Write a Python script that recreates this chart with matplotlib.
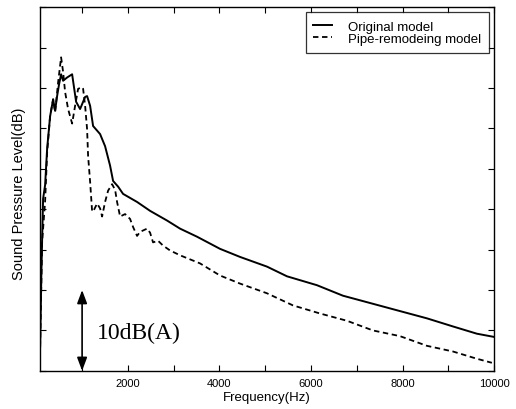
import matplotlib
matplotlib.use("Agg")
import matplotlib.pyplot as plt
from matplotlib.ticker import MultipleLocator, NullFormatter

plt.rcParams['font.family'] = ['Liberation Sans', 'DejaVu Sans']

# Original model (solid)
orig_freq = [83, 110, 127, 148, 192, 236, 301, 367, 410, 454, 498, 541, 585, 672, 782,
             869, 956, 1066, 1109, 1175, 1240, 1393, 1502, 1611, 1677, 1786, 1895, 2201,
             2485, 2856, 3140, 3511, 4013, 4450, 5039, 5476, 6131, 6699, 7354, 7943,
             8533, 9100, 9624, 10000]
orig_spl = [3.0, 12.0, 16.4, 21.3, 23.0, 27.5, 31.5, 33.6, 32.2, 34.0, 35.5, 36.7, 35.9,
            36.3, 36.7, 33.3, 32.4, 33.9, 34.0, 32.8, 30.3, 29.3, 27.8, 25.4, 23.5, 22.8,
            21.9, 20.9, 19.8, 18.6, 17.6, 16.6, 15.1, 14.1, 12.9, 11.7, 10.6, 9.3, 8.3,
            7.4, 6.5, 5.5, 4.6, 4.2]

# Pipe-remodeing model (dashed)
pipe_freq = [83, 127, 192, 236, 301, 367, 410, 476, 541, 585, 629, 694, 782, 847, 913,
             1000, 1022, 1066, 1109, 1131, 1175, 1218, 1240, 1328, 1393, 1437, 1502, 1568,
             1655, 1721, 1764, 1830, 1939, 2048, 2114, 2201, 2266, 2419, 2485, 2550, 2659,
             2769, 2921, 3140, 3576, 4013, 4450, 5039, 5607, 6197, 6786, 7354, 7943, 8533,
             9100, 9624, 9952]
pipe_spl = [3.0, 16.0, 21.0, 27.0, 31.5, 33.6, 32.0, 35.7, 38.8, 37.0, 34.5, 32.4, 30.6,
            32.8, 34.9, 35.1, 34.9, 32.8, 29.9, 26.6, 23.4, 19.8, 19.7, 20.7, 20.1, 19.1,
            20.9, 22.3, 23.1, 22.4, 20.9, 19.1, 19.4, 18.8, 17.8, 16.7, 17.2, 17.6, 17.1,
            15.9, 16.1, 15.5, 14.9, 14.3, 13.3, 11.8, 10.8, 9.6, 8.1, 7.1, 6.2, 5.0, 4.3,
            3.1, 2.4, 1.5, 1.0]

xtick_vals = [2000, 4000, 6000, 8000, 10000]
series_labels = ["Original model", "Pipe-remodeing model"]

fig = plt.figure(figsize=(5.16, 4.10), dpi=100)
ax = fig.add_axes([0.0775, 0.093, 0.880, 0.887])

ax.plot(orig_freq, orig_spl, color='black', lw=1.4, linestyle='-', label=series_labels[0])
ax.plot(pipe_freq, pipe_spl, color='black', lw=1.3, linestyle=(0, (3, 2)), label=series_labels[1])

ax.set_xlim(80, 10000)
ax.set_ylim(0, 45)
ax.set_xticks(xtick_vals)
ax.set_xticklabels([str(v) for v in xtick_vals], fontsize=8)
ax.xaxis.set_minor_locator(MultipleLocator(1000))
ax.yaxis.set_major_locator(MultipleLocator(5))
ax.yaxis.set_major_formatter(NullFormatter())
ax.tick_params(which='both', direction='in', top=True, right=True, length=4, width=0.8)
ax.tick_params(axis='x', pad=5)
for s in ax.spines.values():
    s.set_linewidth(1.0)

ax.set_xlabel("Frequency(Hz)", fontsize=9.5, labelpad=2)
ax.set_ylabel("Sound Pressure Level(dB)", fontsize=10.5)
ax.yaxis.set_label_coords(-0.03, 0.49)

# 10 dB scale arrow
ax.annotate("", xy=(1000, 10), xytext=(1000, 0),
            arrowprops=dict(arrowstyle='<|-|>,head_length=0.8,head_width=0.3',
                            color='black', lw=1.2, shrinkA=0, shrinkB=0))
ax.text(1330, 4.8, "10dB(A)", fontsize=17, family=['Liberation Serif', 'DejaVu Serif'],
        va='center', ha='left')

leg = ax.legend(loc='upper right', fontsize=9.5, frameon=True, fancybox=False,
                edgecolor='black', handlelength=1.4, borderpad=0.6, labelspacing=0.0,
                handletextpad=1.2, borderaxespad=0.4)
leg.get_frame().set_linewidth(0.9)

fig.savefig("out.png", dpi=100)
